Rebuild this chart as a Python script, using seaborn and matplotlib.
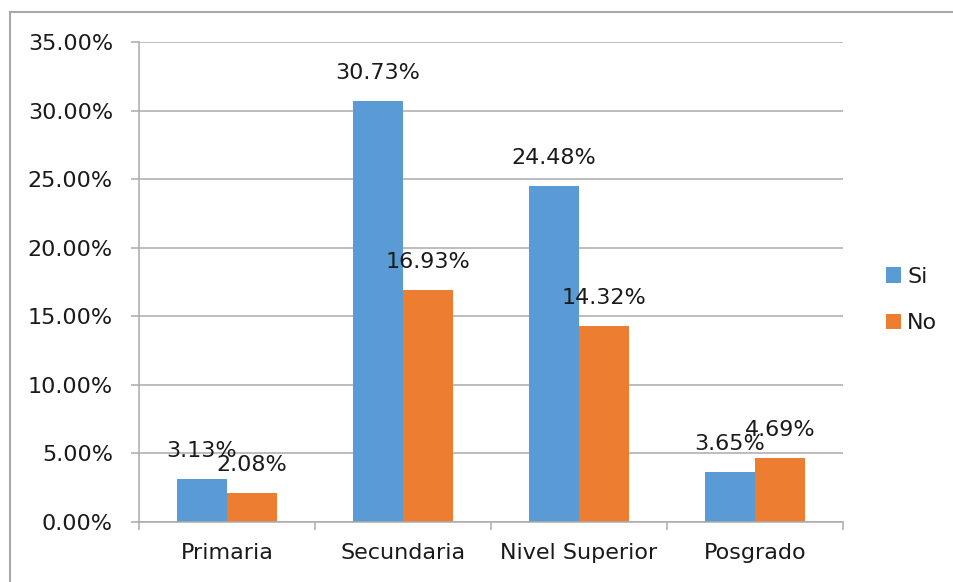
import matplotlib
matplotlib.use("Agg")
import matplotlib.pyplot as plt
from matplotlib.lines import Line2D
from matplotlib.patches import Patch
from matplotlib.ticker import FuncFormatter, FixedLocator
import seaborn as sns
import pandas as pd

# Porcentajes por nivel de estudios
niveles = ["Primaria", "Secundaria", "Nivel Superior", "Posgrado"]
si = [3.13, 30.73, 24.48, 3.65]
no = [2.08, 16.93, 14.32, 4.69]
series = ["Si", "No"]
colores = ["#5B9BD5", "#ED7D31"]
yticks = [0, 5, 10, 15, 20, 25, 30, 35]

df = pd.DataFrame({
    "nivel": niveles * 2,
    "valor": si + no,
    "serie": ["Si"] * len(niveles) + ["No"] * len(niveles),
})

sns.set_theme(style="white")
plt.rcParams["font.family"] = ["DejaVu Sans"]

W, H = 954, 582
fig = plt.figure(figsize=(W / 100, H / 100), dpi=100)
ax = fig.add_axes([139 / W, 1 - 522 / H, (843 - 139) / W, (522 - 42) / H])

sns.barplot(data=df, x="nivel", y="valor", hue="serie", order=niveles,
            hue_order=series, palette=colores, saturation=1, width=0.568,
            linewidth=0, errorbar=None, ax=ax, legend=False)

grid = "#ABABAB"
ax.set_ylim(0, 35)
ax.set_xlim(-0.5, len(niveles) - 0.5)
ax.set_yticks(yticks)
ax.yaxis.set_major_formatter(FuncFormatter(lambda v, p: f"{v:.2f}%"))
ax.yaxis.grid(True, color=grid, linewidth=1.1)
ax.set_axisbelow(True)
ax.set_xlabel("")
ax.set_ylabel("")

for s in ["top", "right"]:
    ax.spines[s].set_visible(False)
for s in ["left", "bottom"]:
    ax.spines[s].set_color(grid)
    ax.spines[s].set_linewidth(1.1)

ax.tick_params(axis="y", which="major", length=5.8, width=1.1, color=grid,
               pad=13, labelsize=16, labelcolor="#1a1a1a", left=True)
ax.tick_params(axis="x", which="major", length=0, pad=15, labelsize=16,
               labelcolor="#1a1a1a")
ax.xaxis.set_minor_locator(FixedLocator([i - 0.5 for i in range(len(niveles) + 1)]))
ax.tick_params(axis="x", which="minor", length=5.8, width=1.1, color=grid,
               bottom=True)

# Etiquetas de datos sobre cada barra
for cont in ax.containers:
    for bar in cont:
        v = bar.get_height()
        ax.annotate(f"{v:.2f}%", (bar.get_x() + bar.get_width() / 2, v),
                    xytext=(0, 28), textcoords="offset pixels",
                    ha="center", va="center", fontsize=16, color="#1a1a1a")

handles = [Patch(facecolor=c, edgecolor="none") for c in colores]
fig.legend(handles, series, loc="center left",
           bbox_to_anchor=(866 / W, 1 - 300 / H), frameon=False,
           fontsize=16, handlelength=0.68, handleheight=0.68,
           handletextpad=0.28, labelspacing=1.2, labelcolor="#1a1a1a")

# Marco del gráfico
border = "#A8A8A8"
fig.add_artist(Line2D([10 / W, 1], [1 - 12 / H, 1 - 12 / H],
                      transform=fig.transFigure, color=border, linewidth=1.5))
fig.add_artist(Line2D([10 / W, 10 / W], [0, 1 - 12 / H],
                      transform=fig.transFigure, color=border, linewidth=1.5))

fig.savefig("out.png", dpi=100)
